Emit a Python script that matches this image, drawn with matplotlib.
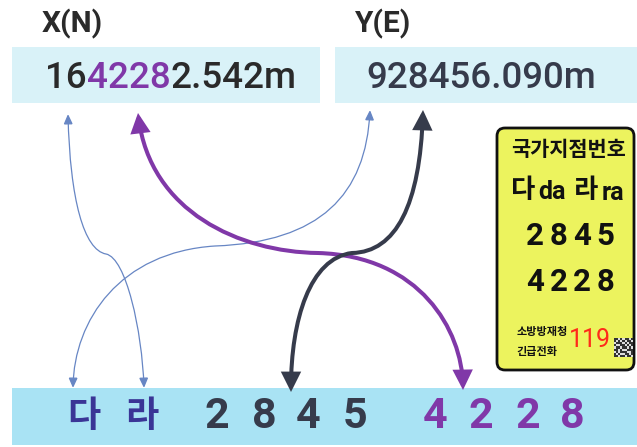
import matplotlib
matplotlib.use("Agg")
import matplotlib.pyplot as plt
from matplotlib.path import Path
from matplotlib.patches import FancyArrowPatch, FancyBboxPatch, Rectangle
import numpy as np

# ---------------- data ----------------
x_label = "X(N)"
y_label = "Y(E)"
x_parts = ["16", "4228", "2.542m"]          # X coordinate split by highlight
y_value = "928456.090m"
grid_letters = ["다", "라"]
east_digits = ["2", "8", "4", "5"]
north_digits = ["4", "2", "2", "8"]
sign_title = "국가지점번호"
sign_code1 = "2845"
sign_code2 = "4228"
sign_agency = ["소방방재청", "긴급전화"]
sign_phone = "119"
qr_bits = [
    [1,1,0,1,0,1,1,0,1],
    [1,0,1,0,1,0,1,1,0],
    [0,1,1,1,0,1,0,1,1],
    [1,0,0,1,1,0,1,0,1],
    [0,1,1,0,1,1,0,1,0],
    [1,1,0,1,0,0,1,1,1],
    [0,1,0,1,1,1,0,0,1],
    [1,0,1,0,0,1,1,0,1],
    [1,1,0,1,1,0,1,1,0],
]

# ---------------- style ----------------
DARK = "#2a2a2a"
PURPLE = "#8038a8"
SLATE = "#363b4b"
INDIGO = "#3a3596"
THIN = "#6786c4"
LIGHT_BOX = "#d9f2f8"
BAND = "#a9e3f4"
SIGN = "#ecf35e"

NUM_FONT = ["Roboto", "DejaVu Sans"]
KR_FONT = ["Noto Sans CJK KR", "DejaVu Sans"]

fig = plt.figure(figsize=(6.37, 4.47), dpi=100)
ax = fig.add_axes([0, 0, 1, 1])
ax.set_xlim(0, 637)
ax.set_ylim(447, 0)
ax.axis("off")

# header labels
ax.text(42, 24, x_label, fontsize=21.5, fontweight="bold", color=DARK,
        family=NUM_FONT, va="center", ha="left")
ax.text(355, 24, y_label, fontsize=21.5, fontweight="bold", color=DARK,
        family=NUM_FONT, va="center", ha="left")

# coordinate boxes
ax.add_patch(Rectangle((12, 47), 308, 56, color=LIGHT_BOX, lw=0))
ax.add_patch(Rectangle((335, 47), 302, 56, color=LIGHT_BOX, lw=0))

# X value with highlighted part
cols = [DARK, PURPLE, DARK]
tx = ax.text(45, 79, x_parts[0], fontsize=26.5, fontweight="medium", color=cols[0],
             family=NUM_FONT, va="center", ha="left")
fig.canvas.draw()
for part, c in zip(x_parts[1:], cols[1:]):
    tx = ax.annotate(part, xycoords=tx, xy=(1, 0), va="bottom", ha="left",
                     fontsize=26.5, fontweight="medium", color=c, family=NUM_FONT)
ax.text(366, 79, y_value, fontsize=26.5, fontweight="medium", color=SLATE,
        family=NUM_FONT, va="center", ha="left")

# bottom band
ax.add_patch(Rectangle((12, 388), 625, 57, color=BAND, lw=0))
letter_x = [84, 142]
for ch, x in zip(grid_letters, letter_x):
    ax.text(x, 416, ch, fontsize=26, fontweight="bold", color=INDIGO,
            family=KR_FONT, va="center", ha="center")
east_x = [217, 264, 308, 355]
for ch, x in zip(east_digits, east_x):
    ax.text(x, 417, ch, fontsize=31, fontweight="bold", color=SLATE,
            family=NUM_FONT, va="center", ha="center")
north_x = [435, 481, 528, 572]
for ch, x in zip(north_digits, north_x):
    ax.text(x, 417, ch, fontsize=31, fontweight="bold", color=PURPLE,
            family=NUM_FONT, va="center", ha="center")

# curved double-headed arrows
def curve(p0, c1, c2, p1, c3, c4, p2, color, lw, ms, hl, hw):
    verts = [p0, c1, c2, p1, c3, c4, p2]
    codes = [Path.MOVETO] + [Path.CURVE4] * 6
    arr = FancyArrowPatch(path=Path(verts, codes),
                          arrowstyle=f"<|-|>,head_length={hl},head_width={hw}",
                          mutation_scale=ms, lw=lw, color=color,
                          joinstyle="miter", capstyle="butt")
    ax.add_patch(arr)

curve((68, 114), (70, 200), (84, 250), (106, 254),
      (126, 258), (142, 330), (144, 388), THIN, 0.9, 6, 1.0, 0.45)
curve((370, 110), (366, 195), (320, 242), (215, 246),
      (120, 252), (74, 320), (73, 388), THIN, 0.9, 6, 1.0, 0.45)
curve((138, 113), (150, 212), (240, 252), (318, 253),
      (420, 256), (462, 330), (463, 390), PURPLE, 2.9, 10, 1.0, 0.5)
curve((423, 110), (420, 205), (396, 252), (352, 253),
      (310, 258), (291, 320), (291, 392), SLATE, 2.9, 10, 1.0, 0.5)

# sign board
ax.add_patch(FancyBboxPatch((497, 128), 137, 242,
                            boxstyle="round,pad=0,rounding_size=8",
                            fc=SIGN, ec="#111111", lw=2))
ax.text(569, 150, sign_title, fontsize=15, fontweight="bold", color="#111111",
        family=KR_FONT, va="center", ha="center")
ax.text(523, 191, "다", fontsize=19, fontweight="bold", color="#111111",
        family=KR_FONT, va="center", ha="center")
ax.text(552, 192, "da", fontsize=18, fontweight="bold", color="#111111",
        family=NUM_FONT, va="center", ha="center")
ax.text(586, 191, "라", fontsize=19, fontweight="bold", color="#111111",
        family=KR_FONT, va="center", ha="center")
ax.text(613, 193, "ra", fontsize=18, fontweight="bold", color="#111111",
        family=NUM_FONT, va="center", ha="center")
for row_y, code in [(236, sign_code1), (282, sign_code2)]:
    for i, ch in enumerate(code):
        ax.text(535 + i * 23.5, row_y, ch, fontsize=22.5, fontweight="bold",
                color="#111111", family=NUM_FONT, va="center", ha="center")
ax.text(542, 332, sign_agency[0], fontsize=8, fontweight="bold", color="#111111",
        family=KR_FONT, va="center", ha="center")
ax.text(537, 351, sign_agency[1], fontsize=8, fontweight="bold", color="#111111",
        family=KR_FONT, va="center", ha="center")
ax.text(590, 340, sign_phone, fontsize=18, color="#ff2a1a",
        family=NUM_FONT, va="center", ha="center")
ax.imshow(1 - np.array(qr_bits), cmap="gray", extent=(614, 633, 357, 338),
          interpolation="nearest", vmin=-0.3, vmax=1.2, zorder=3)
ax.set_xlim(0, 637)
ax.set_ylim(447, 0)

fig.savefig("out.png", dpi=100)
